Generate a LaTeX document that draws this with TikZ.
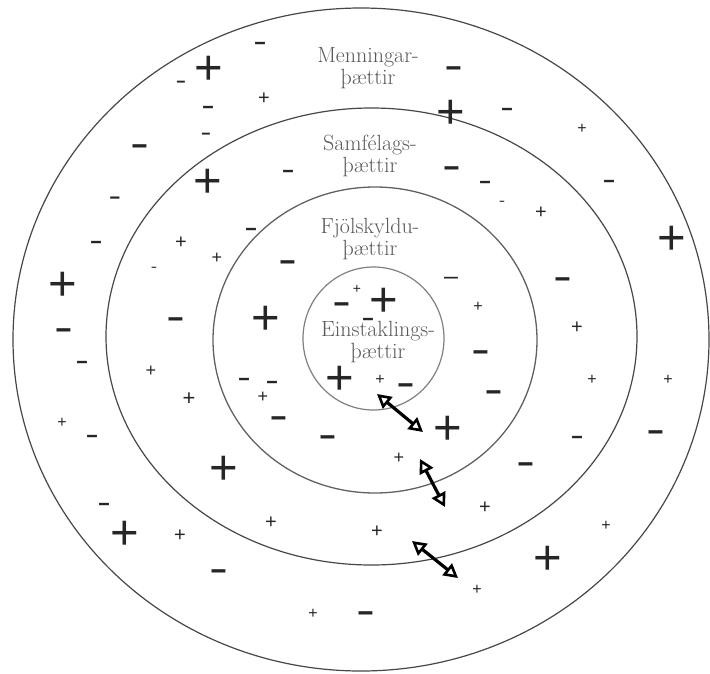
\documentclass[tikz,border=0pt]{standalone}
\usepackage{fontspec}
\newfontfamily\sig{Liberation Sans}
\usetikzlibrary{arrows.meta}
\newcommand\msign{\scalebox{1.35}[1]{-}}
\newcommand\tdash{–}
\begin{document}
\begin{tikzpicture}[x=1pt,y=-1pt,
  ringA/.style={draw=black!72, line width=1.2pt},
  ringB/.style={draw=black!62, line width=1.3pt},
  ringC/.style={draw=black!50, line width=1.2pt},
  lab/.style={font=\fontsize{22}{21.5}\selectfont, text=black!65, align=center, inner sep=0pt, anchor=base},
  pl/.style={font={\sig\fontsize{#1}{#1}\selectfont}, text=black!85, inner sep=0pt, anchor=base,
    text height={0.58pt*#1}, text depth={-0.12pt*#1}, yshift={-0.35pt*#1}},
  mi/.style={font={\sig\fontsize{#1}{#1}\selectfont}, text=black!85, inner sep=0pt, anchor=base,
    text height={0.31pt*#1}, text depth={-0.23pt*#1}, yshift={-0.27pt*#1}},
  dbl/.style={line width=3.2pt, draw=black, {Triangle[open,length=14pt,width=15pt,line width=2.6pt]}-{Triangle[open,length=14pt,width=15pt,line width=2.6pt]}}
]
\useasboundingbox[fill=white] (0,0) rectangle (710,673);
% rings
\draw[ringA] (361,339.5) ellipse [x radius=348, y radius=331.5];
\draw[ringA] (371.5,336.5) ellipse [x radius=265.5, y radius=228.5];
\draw[ringB] (375,340) ellipse [x radius=162, y radius=153];
\draw[ringC] (373.5,338.5) ellipse [x radius=70.5, y radius=71.5];
% labels (base = baseline of the last line)
\node[lab] (l1) at (368,84) {Menningar-\\þættir};
\node[lab] (l2) at (370,172) {Samfélags-\\þættir};
\node[lab] (l3) at (370,255) {Fjölskyldu-\\þættir};
\node[lab] (l4) at (378,358) {Einstaklings-\\þættir};
% outer ring signs
\node[mi=30] (s1) at (260,43) {\msign};
\node[pl=49] (s2) at (209,67) {+};
\node[mi=24] (s3) at (181,82) {\msign};
\node[pl=20] (s4) at (264,97) {+};
\node[mi=30] (s5) at (208,107) {\msign};
\node[mi=24] (s6) at (206,134) {\msign};
\node[mi=42] (s7) at (140,146) {\msign};
\node[mi=42] (s8) at (454,68) {\msign};
\node[pl=49] (s9) at (451,111) {+};
\node[mi=30] (s10) at (507,109) {\msign};
\node[pl=16] (s11) at (582,128) {+};
\node[mi=30] (s12) at (609,181) {\msign};
\node[pl=49] (s13) at (672,237) {+};
\node[mi=28] (s14) at (115,198) {\msign};
\node[mi=30] (s15) at (96,242) {\msign};
\node[pl=49] (s16) at (63,283) {+};
\node[mi=42] (s17) at (64,330) {\msign};
\node[mi=30] (s18) at (82,362) {\msign};
\node[pl=16] (s19) at (62,422) {+};
\node[mi=30] (s20) at (92,436) {\msign};
\node[mi=42] (s21) at (563,279) {\msign};
\node[pl=20] (s22) at (577,326) {+};
\node[pl=16] (s23) at (592,379) {+};
\node[pl=16] (s24) at (668,379) {+};
\node[mi=30] (s25) at (577,437) {\msign};
\node[mi=42] (s26) at (656,432) {\msign};
\node[pl=16] (s27) at (606,525) {+};
\node[pl=49] (s28) at (548,557) {+};
\node[mi=30] (s29) at (104,504) {\msign};
\node[pl=49] (s30) at (125,532) {+};
\node[pl=20] (s31) at (180,534) {+};
\node[mi=42] (s32) at (219,571) {\msign};
\node[pl=16] (s33) at (313,613) {+};
\node[mi=42] (s34) at (366,613) {\msign};
\node[pl=16] (s35) at (477,589) {+};
% second ring signs
\node[pl=49] (s36) at (208,180) {+};
\node[mi=30] (s37) at (288,171) {\msign};
\node[mi=42] (s38) at (452,168) {\msign};
\node[mi=30] (s39) at (485,182) {\msign};
\node[mi=14] (s40) at (502,202) {\msign};
\node[pl=20] (s41) at (541,211) {+};
\node[pl=20] (s42) at (181,241) {+};
\node[pl=18] (s43) at (217,257) {+};
\node[mi=14] (s44) at (154,268) {\msign};
\node[mi=42] (s45) at (176,319) {\msign};
\node[pl=18] (s46) at (151,370) {+};
\node[pl=22] (s47) at (189,398) {+};
\node[pl=49] (s48) at (224,467) {+};
\node[pl=20] (s49) at (271,521) {+};
\node[pl=20] (s50) at (377,530) {+};
\node[pl=20] (s51) at (485,506) {+};
\node[mi=42] (s52) at (526,464) {\msign};
\node[mi=30] (s53) at (251,229) {\msign};
% third ring signs
\node[mi=42] (s54) at (288,262) {\msign};
\node[pl=49] (s55) at (266,317) {+};
\node[mi=30] (s56) at (244,379) {\msign};
\node[mi=30] (s57) at (272,382) {\msign};
\node[pl=18] (s58) at (263,396) {+};
\node[mi=42] (s59) at (279,418) {\msign};
\node[mi=42] (s60) at (328,437) {\msign};
\node[font={\sig\fontsize{25}{25}\selectfont}, text=black!85, inner sep=0pt, anchor=base,
  text height=8.8pt, text depth=-7.2pt, yshift=-8pt] (s61) at (451,276) {\tdash};
\node[pl=16] (s62) at (478,306) {+};
\node[mi=42] (s63) at (481,352) {\msign};
\node[mi=42] (s64) at (494,392) {\msign};
\node[pl=49] (s65) at (448,427) {+};
\node[pl=18] (s66) at (399,457) {+};
% inner circle signs
\node[pl=14] (s67) at (357,289) {+};
\node[pl=49] (s68) at (384,299) {+};
\node[mi=42] (s69) at (342,304) {\msign};
\node[mi=30] (s70) at (368,319) {\msign};
\node[pl=49] (s71) at (340,377) {+};
\node[pl=16] (s72) at (380,379) {+};
\node[mi=42] (s73) at (406,385) {\msign};
% double arrows
\coordinate (a1s) at (377,394);
\coordinate (a1e) at (423,432);
\coordinate (a2s) at (420,459);
\coordinate (a2e) at (445,507);
\coordinate (a3s) at (412,541);
\coordinate (a3e) at (458,578);
\draw[dbl] (a1s) -- (a1e);
\draw[dbl] (a2s) -- (a2e);
\draw[dbl] (a3s) -- (a3e);
\end{tikzpicture}
\end{document}
